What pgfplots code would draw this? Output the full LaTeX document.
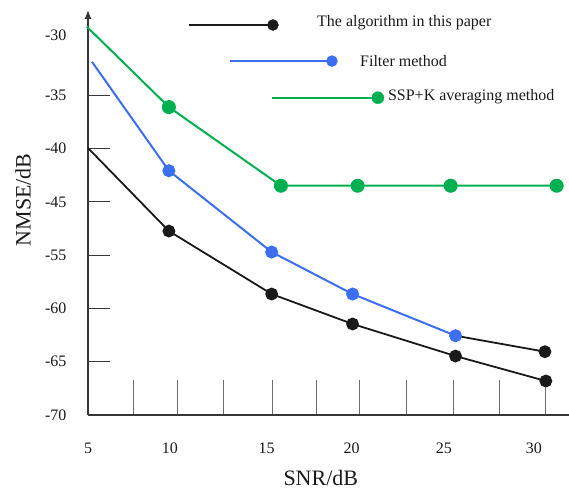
\documentclass[border=0pt]{standalone}
\usepackage{pgfplots}
\pgfplotsset{compat=1.18}
\usepackage{fontspec}
\setmainfont{Liberation Serif}
\usetikzlibrary{arrows.meta}
\definecolor{cblack}{RGB}{26,26,26}
\definecolor{cblue}{RGB}{60,110,240}
\definecolor{cgreen}{RGB}{0,176,80}
\definecolor{caxis}{RGB}{55,55,55}
\definecolor{ctick}{RGB}{110,110,110}
\begin{document}
\begin{tikzpicture}
\begin{axis}[
  at={(0,0)}, anchor=south west,
  width=481pt, height=405pt, scale only axis,
  xmin=5.47, xmax=32.05, ymin=-70, ymax=-32,
  clip=false,
  axis x line*=bottom, axis y line*=left,
  x axis line style={caxis, line width=1.2pt},
  y axis line style={caxis, line width=1.2pt, -{Latex[length=9pt,width=7pt]}},
  tick align=inside,
  major tick length=0pt,
  xtick={5.47,10,15.34,20.04,25.14,30.11},
  xticklabels={5,10,15,20,25,30},
  minor xtick={7.96,10.39,12.98,15.64,18.07,20.50,23.09,25.64,28.23,30.77},
  minor tick length=35pt,
  every minor x tick/.style={draw=ctick, line width=1pt},
  ytick={-70,-65,-60,-55,-50,-45,-40},
  yticklabels={-70,-65,-60,-55,-45,-40,-35},
  tick label style={font=\fontsize{16}{16}\selectfont, text=cblack},
  xticklabel style={yshift=-24pt},
  yticklabel style={xshift=-18pt},
  xlabel={SNR/dB}, ylabel={NMSE/dB},
  every axis x label/.style={at={(rel axis cs:0.484,0)}, anchor=center, yshift=-63pt, font=\fontsize{22}{22}\selectfont, text=cblack},
  every axis y label/.style={at={(rel axis cs:0,0.531)}, anchor=center, xshift=-65pt, rotate=90, font=\fontsize{22}{22}\selectfont, text=cblack},
  mark size=5.5pt,
]
% y tick marks (22 px long, inside)
\addplot[draw=caxis, line width=1pt, no marks, forget plot] coordinates {(5.47,-65) (6.70,-65)};
\addplot[draw=caxis, line width=1pt, no marks, forget plot] coordinates {(5.47,-60) (6.70,-60)};
\addplot[draw=caxis, line width=1pt, no marks, forget plot] coordinates {(5.47,-55) (6.70,-55)};
\addplot[draw=caxis, line width=1pt, no marks, forget plot] coordinates {(5.47,-50) (6.70,-50)};
\addplot[draw=caxis, line width=1pt, no marks, forget plot] coordinates {(5.47,-45) (6.70,-45)};
\addplot[draw=caxis, line width=1pt, no marks, forget plot] coordinates {(5.47,-40) (6.70,-40)};
% The algorithm in this paper
\addplot[cblack, line width=1.8pt, mark=*, mark indices={2,3,4,5,6}, mark options={solid, fill=cblack, draw=cblack}]
  coordinates {(5.47,-44.95) (9.94,-52.74) (15.62,-58.65) (20.09,-61.46) (25.78,-64.47) (30.77,-66.81)};
% Filter method
\addplot[cblue, line width=2pt, mark=*, mark indices={2,3,4,5}, mark options={solid, fill=cblue, draw=cblue}]
  coordinates {(5.69,-36.86) (9.94,-47.08) (15.62,-54.71) (20.09,-58.65) (25.78,-62.56)};
\addplot[cblack, line width=1.8pt, mark=*, mark indices={2}, mark options={solid, fill=cblack, draw=cblack}]
  coordinates {(25.78,-62.56) (30.72,-64.06)};
% SSP+K averaging method
\addplot[cgreen, line width=2pt, mark=*, mark size=6pt, mark indices={2,3,4,5,6}, mark options={solid, fill=cgreen, draw=cgreen}]
  coordinates {(5.41,-33.57) (9.94,-41.11) (16.13,-48.49) (20.37,-48.49) (25.51,-48.49) (31.37,-48.49)};
% legend samples
\addplot[cblack, line width=1.8pt, forget plot] coordinates {(11.05,-33.41) (15.69,-33.41)};
\addplot[only marks, mark=*, mark options={fill=cblack, draw=cblack}, forget plot] coordinates {(15.69,-33.41)};
\addplot[cblue, line width=2pt, forget plot] coordinates {(13.32,-36.79) (18.95,-36.79)};
\addplot[only marks, mark=*, mark options={fill=cblue, draw=cblue}, forget plot] coordinates {(18.95,-36.79)};
\addplot[cgreen, line width=2pt, forget plot] coordinates {(15.64,-40.23) (21.49,-40.23)};
\addplot[only marks, mark=*, mark size=6pt, mark options={fill=cgreen, draw=cgreen}, forget plot] coordinates {(21.49,-40.23)};
\node[anchor=west, inner sep=0pt, font=\fontsize{16}{16}\selectfont, text=cblack] at (axis cs:18.12,-33.2) {The algorithm in this paper};
\node[anchor=west, inner sep=0pt, font=\fontsize{16}{16}\selectfont, text=cblack] at (axis cs:20.50,-36.79) {Filter method};
\node[anchor=west, inner sep=0pt, font=\fontsize{16}{16}\selectfont, text=cblack] at (axis cs:22.04,-40.1) {SSP+K averaging method};
\node[anchor=east, font=\fontsize{16}{16}\selectfont, text=cblack] at (axis cs:5.47,-34.35) [xshift=-18pt] {-30};
\end{axis}
\pgfresetboundingbox
\path[use as bounding box] (-88pt,-77pt) rectangle (481pt,415pt);
\end{tikzpicture}
\end{document}
